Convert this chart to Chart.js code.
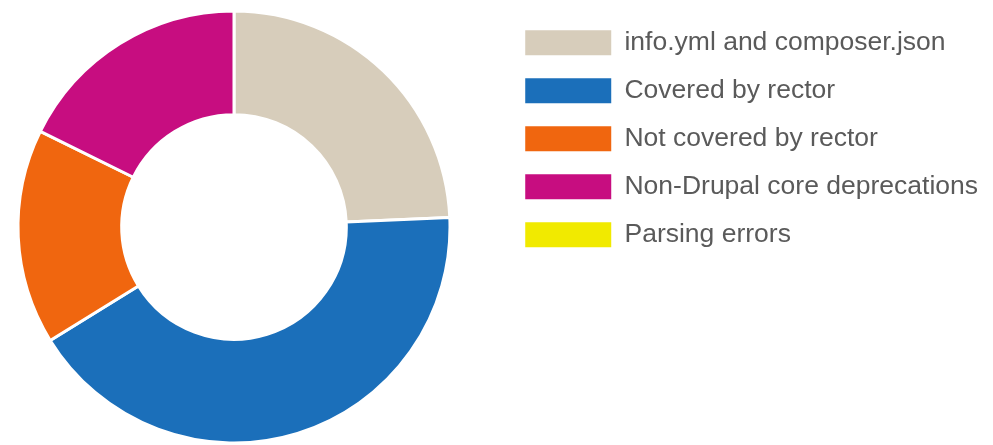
<!DOCTYPE html>
<html>
<head>
<meta charset="utf-8">
<script src="https://cdn.jsdelivr.net/npm/chart.js@4"></script>
<style>
  html, body { margin: 0; padding: 0; background: #fff; }
  #wrap { width: 993px; height: 445px; }
</style>
</head>
<body>
<div id="wrap"><canvas id="donut"></canvas></div>
<script>
// Chart data
const categories = [
  'info.yml and composer.json',
  'Covered by rector',
  'Not covered by rector',
  'Non-Drupal core deprecations',
  'Parsing errors'
];
const shares = [24.3, 41.9, 16.1, 17.7, 0]; // percent of the ring
const sliceColors = ['#d7cdbb', '#1b6fba', '#f0660f', '#c70d80', '#f1ea00'];

// Legend boxes come from the doughnut defaults, just without the white outline
const legendLabels = (chart) => {
  const items = Chart.overrides.doughnut.plugins.legend.labels.generateLabels(chart);
  items.forEach(item => {
    item.lineWidth = 0;
    item.strokeStyle = 'rgba(0,0,0,0)';
  });
  return items;
};

// The ring sits further left than the legend layout would put it
const ringPosition = {
  id: 'ringPosition',
  afterLayout(chart) {
    const a = chart.chartArea;
    const cx = 234, cy = 227, half = 220;
    a.left = cx - half; a.right = cx + half;
    a.top = cy - half; a.bottom = cy + half;
    a.width = a.height = half * 2;
  }
};

new Chart(document.getElementById('donut'), {
  type: 'doughnut',
  data: {
    labels: categories,
    datasets: [{
      data: shares,
      backgroundColor: sliceColors,
      borderColor: '#ffffff',
      borderWidth: 3,
      radius: 216,
      cutout: '52%'
    }]
  },
  options: {
    responsive: true,
    maintainAspectRatio: false,
    animation: false,
    layout: { padding: { top: 8, right: 5 } },
    plugins: {
      tooltip: { enabled: false },
      legend: {
        position: 'right',
        align: 'start',
        labels: {
          boxWidth: 86,
          boxHeight: 25,
          padding: 21.5,
          color: '#5a5a5a',
          font: { family: '"Liberation Sans", Arial, Helvetica, sans-serif', size: 26.5 },
          generateLabels: legendLabels
        }
      }
    }
  },
  plugins: [ringPosition]
});
</script>
</body>
</html>
